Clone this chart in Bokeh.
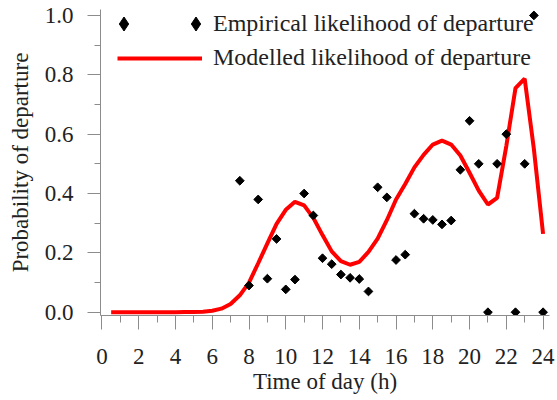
import numpy as np
from bokeh.plotting import figure
from bokeh.models import (Range1d, FixedTicker, Legend, LegendItem)
from bokeh.embed import file_html
from bokeh.resources import INLINE

# ---- data ----
emp_hour = [7.5, 8.0, 8.5, 9.0, 9.5, 10.0, 10.5, 11.0, 11.5, 12.0, 12.5, 13.0,
            13.5, 14.0, 14.5, 15.0, 15.5, 16.0, 16.5, 17.0, 17.5, 18.0, 18.5,
            19.0, 19.5, 20.0, 20.5, 21.0, 21.5, 22.0, 22.5, 23.0, 23.5, 24.0]
emp_prob = [0.443, 0.09, 0.38, 0.113, 0.247, 0.077, 0.11, 0.40, 0.326, 0.182,
            0.162, 0.127, 0.116, 0.112, 0.07, 0.421, 0.387, 0.176, 0.194, 0.332,
            0.315, 0.311, 0.296, 0.309, 0.48, 0.645, 0.50, 0.0, 0.50, 0.60, 0.0,
            0.50, 1.0, 0.0]

mod_hour = [0.5, 1.0, 1.5, 2.0, 2.5, 3.0, 3.5, 4.0, 4.5, 5.0, 5.5, 6.0, 6.5,
            7.0, 7.5, 8.0, 8.5, 9.0, 9.5, 10.0, 10.5, 11.0, 11.5, 12.0, 12.5,
            13.0, 13.5, 14.0, 14.5, 15.0, 15.5, 16.0, 16.5, 17.0, 17.5, 18.0,
            18.5, 19.0, 19.5, 20.0, 20.5, 21.0, 21.5, 22.0, 22.5, 23.0, 23.5, 24.0]
mod_prob = [0.0, 0.0, 0.0, 0.0, 0.0, 0.0, 0.0, 0.0, 0.0005, 0.001, 0.002, 0.005,
            0.012, 0.028, 0.057, 0.10, 0.165, 0.232, 0.298, 0.345, 0.372, 0.36,
            0.318, 0.26, 0.205, 0.172, 0.16, 0.17, 0.203, 0.248, 0.31, 0.38,
            0.432, 0.488, 0.53, 0.565, 0.578, 0.565, 0.528, 0.47, 0.41, 0.363,
            0.385, 0.56, 0.755, 0.787, 0.55, 0.264]

x_ticks = [0, 2, 4, 6, 8, 10, 12, 14, 16, 18, 20, 22, 24]
x_minor = [1, 3, 5, 7, 9, 11, 13, 15, 17, 19, 21, 23]
y_ticks = [0.0, 0.2, 0.4, 0.6, 0.8, 1.0]
y_tick_labels = ["0.0", "0.2", "0.4", "0.6", "0.8", "1.0"]
y_minor = [0.1, 0.3, 0.5, 0.7, 0.9]

FONT = "Liberation Serif"
TXT = "#222222"
AX = "#8c8c8c"

p = figure(width=557, height=400, output_backend="svg", toolbar_location=None,
           x_range=Range1d(-0.08, 24.35), y_range=Range1d(-0.011, 1.02),
           min_border_left=100, min_border_right=8, min_border_top=9,
           min_border_bottom=85)
p.grid.visible = False
p.outline_line_color = None
p.background_fill_color = "white"
p.border_fill_color = "white"

model = p.line(mod_hour, mod_prob, line_color="#ff0000", line_width=4)
emp = p.scatter(emp_hour, emp_prob, marker="square", angle=np.pi / 4, size=6.2,
                fill_color="black", line_color="black")
# hidden copy of the empirical series, used only for the legend's diamond key
emp_key = p.scatter(emp_hour, emp_prob, marker="diamond", size=14,
                    fill_color="black", line_color="black", visible=False)

# axes
xa = p.xaxis[0]
xa.ticker = FixedTicker(ticks=x_ticks, minor_ticks=x_minor)
xa.axis_label = "Time of day (h)"
ya = p.yaxis[0]
ya.ticker = FixedTicker(ticks=y_ticks, minor_ticks=y_minor)
ya.major_label_overrides = {t: l for t, l in zip(y_ticks, y_tick_labels)}
ya.axis_label = "Probability of departure"

for ax in (xa, ya):
    ax.axis_line_color = AX
    ax.major_tick_line_color = AX
    ax.minor_tick_line_color = AX
    ax.major_tick_in = 0
    ax.minor_tick_in = 0
    ax.major_label_text_font = FONT
    ax.major_label_text_font_size = "23px"
    ax.major_label_text_color = TXT
    ax.axis_label_text_font = FONT
    ax.axis_label_text_font_size = "23px"
    ax.axis_label_text_font_style = "normal"
    ax.axis_label_text_color = TXT

xa.major_tick_out = 14
xa.minor_tick_out = 7
xa.major_label_standoff = 19
xa.axis_label_standoff = 2
ya.major_tick_out = 13
ya.minor_tick_out = 6
ya.major_label_standoff = 14
ya.axis_label_standoff = 9


def mk_legend(items, loc, gw, gh, standoff):
    lg = Legend(items=items, location=loc, glyph_width=gw, glyph_height=gh,
                label_standoff=standoff, padding=0, margin=0, spacing=0,
                border_line_color=None, background_fill_alpha=0,
                inactive_fill_alpha=0,
                label_text_font=FONT, label_text_font_size="24px",
                label_text_color=TXT)
    return lg


leg0 = mk_legend([LegendItem(label=" ", renderers=[emp_key])], (6, 274), 35, 35, 0)
leg1 = mk_legend([LegendItem(label="Empirical likelihood of departure", renderers=[emp_key])],
                 (78, 274), 35, 35, 0)
leg2 = mk_legend([LegendItem(label="Modelled likelihood of departure", renderers=[model])],
                 (17, 244), 85, 26, 11)
for lg in (leg0, leg1, leg2):
    p.add_layout(lg, "center")

open("out.html", "w").write(file_html(p, INLINE))
